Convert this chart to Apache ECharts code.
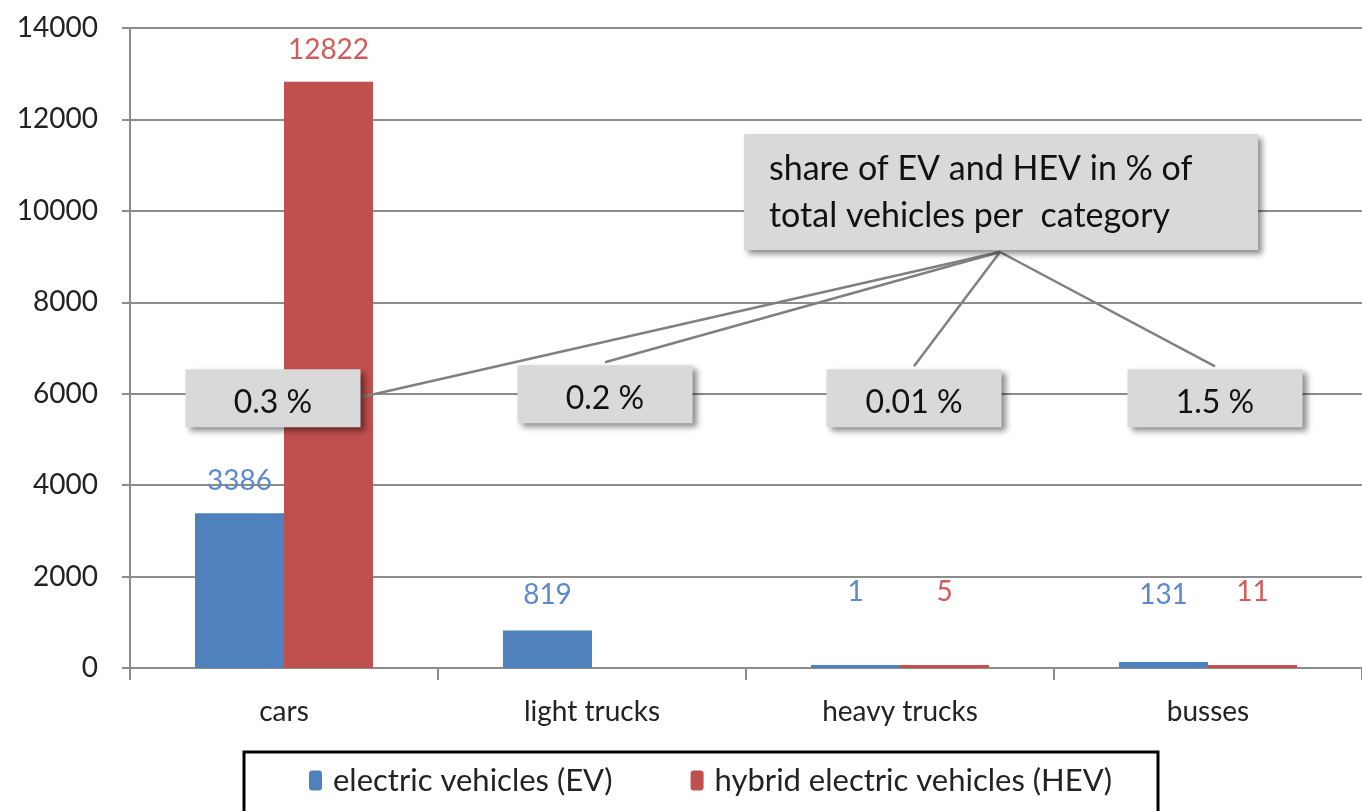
<!DOCTYPE html>
<html>
<head>
<meta charset="utf-8">
<script src="https://cdn.jsdelivr.net/npm/echarts@6/dist/echarts.min.js"></script>
<style>
  html, body { margin: 0; padding: 0; background: #fff; }
  #chart { width: 1362px; height: 811px; }
</style>
</head>
<body>
<div id="chart"></div>
<script>
    'use strict'

    /* Chart data */
    var categories = ['cars', 'light trucks', 'heavy trucks', 'busses'];
    var evValues = [3386, 819, 1, 131];
    var hevValues = [12822, 0, 5, 11];
    var shareLabels = ['0.3 %', '0.2 %', '0.01 %', '1.5 %'];
    var calloutText = 'share of EV and HEV in % of\ntotal vehicles per  category';
    var yMin = 0, yMax = 14000, yStep = 2000;

    var font = 'Lato';
    var blue = '#4F81BD', red = '#C0504D';

    function barData(values) {
        return values.map(function (v) {
            return v === 0 ? { value: v, itemStyle: { opacity: 0 } } : { value: v };
        });
    }

    var chart = echarts.init(document.getElementById('chart'));

    chart.setOption({
        animation: false,
        textStyle: { fontFamily: font },
        grid: { left: 130, right: 0, top: 28, bottom: 143 },
        legend: {
            bottom: 10,
            left: 304,
            itemWidth: 13,
            itemHeight: 20,
            itemGap: 78,
            textStyle: { fontSize: 31, color: '#222', fontFamily: font, padding: [0, 0, 0, 6] },
            data: ['electric vehicles (EV)', 'hybrid electric vehicles (HEV)']
        },
        xAxis: {
            type: 'category',
            data: categories,
            axisLine: { lineStyle: { color: '#8c8c8c', width: 2 } },
            axisTick: { show: true, length: 12, lineStyle: { color: '#8c8c8c', width: 2 } },
            axisLabel: { fontSize: 28, color: '#222', margin: 30 }
        },
        yAxis: {
            type: 'value',
            min: yMin,
            max: yMax,
            interval: yStep,
            axisLine: { show: true, lineStyle: { color: '#8c8c8c', width: 2 } },
            axisTick: { show: true, length: 8, lineStyle: { color: '#8c8c8c', width: 2 } },
            splitLine: { lineStyle: { color: '#8c8c8c', width: 2 } },
            axisLabel: { fontSize: 28, color: '#222', margin: 32, formatter: function (v) { return String(v); } }
        },
        series: [
            {
                name: 'electric vehicles (EV)',
                type: 'bar',
                barWidth: 89,
                barGap: '0%',
                barMinHeight: 3,
                itemStyle: { color: blue },
                data: barData(evValues)
            },
            {
                name: 'hybrid electric vehicles (HEV)',
                type: 'bar',
                barWidth: 89,
                barGap: '0%',
                barMinHeight: 3,
                itemStyle: { color: red },
                data: barData(hevValues)
            }
        ]
    });

    /* place value labels and callout boxes from axis coordinates */
    function px(i, v) { return chart.convertToPixel({ gridIndex: 0 }, [i, v]); }

    var lowLabelY = px(0, 1600)[1];
    function labelled(values, color) {
        return values.map(function (v, i) {
            var top = px(i, v)[1];
            var d = Math.max(18, top - lowLabelY - 14);
            return {
                value: v,
                itemStyle: v === 0 ? { opacity: 0 } : undefined,
                label: { show: true, position: 'top', distance: d, formatter: String(v),
                         fontSize: 28, color: color }
            };
        });
    }

    var shadow = { shadowBlur: 6, shadowOffsetX: 4, shadowOffsetY: 4, shadowColor: 'rgba(0,0,0,0.45)' };
    var graphics = [];

    // legend box
    graphics.push({
        type: 'rect', shape: { x: 244, y: 752, width: 914, height: 80 },
        style: { fill: 'none', stroke: '#000', lineWidth: 3 }, z: 10
    });

    var hub = [1000, 252];
    var boxW = 175, boxH = 58;
    var boxY = px(0, 5900)[1];
    var anchors = [];
    var boxOffsets = [-11, 13, 14, 7];
    shareLabels.forEach(function (t, i) {
        var cx = px(i, 0)[0] + boxOffsets[i];
        var bx = cx - boxW / 2, by = boxY - boxH / 2 + (i === 1 ? -4 : 0);
        anchors.push(i === 0 ? [bx + boxW, by + 28] : [cx, by - 3]);
        graphics.push({
            type: 'rect', shape: { x: bx, y: by, width: boxW, height: boxH },
            style: Object.assign({ fill: '#D9D9D9' }, shadow), z: 20
        });
        graphics.push({
            type: 'text', x: cx, y: by + boxH / 2 + 4,
            style: { text: t, fontSize: 32, fontFamily: font, fill: '#111', align: 'center', verticalAlign: 'middle' },
            z: 21
        });
    });
    anchors.forEach(function (a) {
        graphics.push({
            type: 'line', shape: { x1: hub[0], y1: hub[1], x2: a[0], y2: a[1] },
            style: { stroke: '#808080', lineWidth: 2.5 }, z: 15
        });
    });
    graphics.push({
        type: 'rect', shape: { x: 744, y: 134, width: 514, height: 116 },
        style: Object.assign({ fill: '#D9D9D9' }, shadow), z: 20
    });
    graphics.push({
        type: 'text', x: 769, y: 193,
        style: { text: calloutText, fontSize: 34, lineHeight: 47, fontFamily: font, fill: '#111', align: 'left', verticalAlign: 'middle' },
        z: 21
    });

    chart.setOption({
        series: [
            { data: labelled(evValues, '#5A8ACB') },
            { data: labelled(hevValues, '#D05C5A') }
        ],
        graphic: graphics
    });
</script>
</body>
</html>
